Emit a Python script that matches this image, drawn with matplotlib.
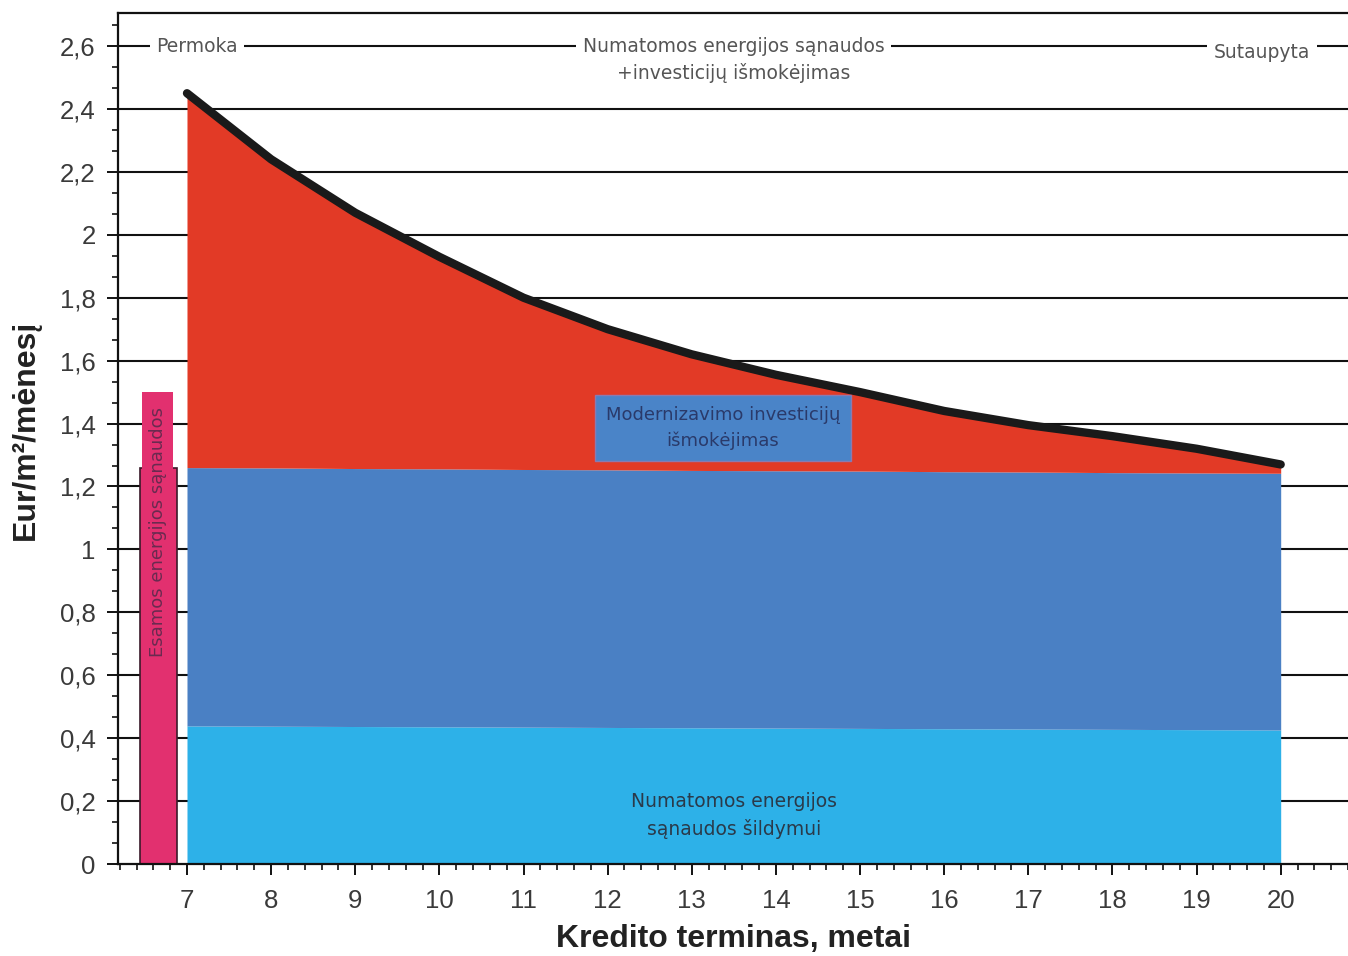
import numpy as np
import matplotlib
matplotlib.use('Agg')
import matplotlib.pyplot as plt
from matplotlib.ticker import MultipleLocator, FuncFormatter

# duomenys
metai = [7, 8, 9, 10, 11, 12, 13, 14, 15, 16, 17, 18, 19, 20]
viso = [2.45, 2.24, 2.07, 1.93, 1.80, 1.70, 1.62, 1.555, 1.50, 1.44, 1.395, 1.36, 1.32, 1.27]
investicijos_riba = [1.26, 1.259, 1.257, 1.256, 1.254, 1.253, 1.251, 1.25, 1.249, 1.247, 1.246, 1.244, 1.243, 1.242]
sildymas = [0.439, 0.438, 0.437, 0.436, 0.435, 0.434, 0.433, 0.432, 0.431, 0.43, 0.429, 0.428, 0.427, 0.426]
esamos_x = 6.66
esamos = [1.50, 1.26]
esamos_plotis = [0.36, 0.44]

RAUDONA = '#e23a26'
MELYNA = '#4a80c4'
SVIESIAI_MELYNA = '#2db1e8'
ROZINE = '#e2306f'

plt.rcParams['font.family'] = ['Liberation Sans', 'DejaVu Sans']

fig = plt.figure(figsize=(13.48, 9.56), dpi=100)
ax = fig.add_axes([118 / 1348, 92 / 956, 1 - 118 / 1348, 851 / 956])

# horizontalios linijos
for y in np.arange(0.2, 2.61, 0.2):
    ax.axhline(y, color='#111111', lw=1.5, zorder=0.5)

# esamos sanaudos (rozines kolonos)
ax.bar(esamos_x, esamos[1], width=esamos_plotis[1], color=ROZINE,
       edgecolor='#3a1a2a', linewidth=1.2, zorder=2)
ax.bar(esamos_x - 0.01, esamos[0], width=esamos_plotis[0], color=ROZINE,
       edgecolor='none', zorder=2.5)
ax.text(esamos_x - 0.01, 1.055, 'Esamos energijos sąnaudos', rotation=90,
        ha='center', va='center', fontsize=13, color='#6a2a50', zorder=3,
        family=['DejaVu Sans'])

# plotai
ax.fill_between(metai, 0, sildymas, color=SVIESIAI_MELYNA, lw=0, zorder=2)
ax.fill_between(metai, sildymas, investicijos_riba, color=MELYNA, lw=0, zorder=2)
ax.fill_between(metai, investicijos_riba, viso, color=RAUDONA, lw=0, zorder=2)
ax.plot(metai, viso, color='#1a1a1a', lw=6, solid_capstyle='round',
        solid_joinstyle='round', zorder=3)

# uzrasai
ax.text(13.37, 1.386, 'Modernizavimo investicijų\nišmokėjimas', ha='center', va='center',
        fontsize=13, color='#2a3a6a', linespacing=1.55, zorder=4,
        family=['DejaVu Sans'],
        bbox=dict(boxstyle='square,pad=0.6', fc='#4a84c8', ec='#8a7ab0', lw=1))
ax.text(13.5, 0.155, 'Numatomos energijos\nsąnaudos šildymui', ha='center', va='center',
        fontsize=13.5, color='#2a3a4a', linespacing=1.5, zorder=4, family=['DejaVu Sans'])

top_kw = dict(fontsize=13.5, color='#555555', zorder=4, family=['DejaVu Sans'],
              bbox=dict(boxstyle='square,pad=0.35', fc='white', ec='none'))
ax.text(7.12, 2.6, 'Permoka', ha='center', va='center', **top_kw)
ax.text(13.5, 2.6, 'Numatomos energijos sąnaudos', ha='center', va='center', **top_kw)
ax.text(13.5, 2.515, '+investicijų išmokėjimas', ha='center', va='center', **top_kw)
ax.text(19.78, 2.58, 'Sutaupyta', ha='center', va='center', **top_kw)

# asys
ax.set_xlim(6.18, 20.8)
ax.set_ylim(0, 2.705)
ax.spines['right'].set_visible(False)
for s in ['left', 'bottom', 'top']:
    ax.spines[s].set_linewidth(1.6)
    ax.spines[s].set_color('#111111')

ax.xaxis.set_minor_locator(MultipleLocator(0.2))
ax.yaxis.set_major_locator(MultipleLocator(0.2))
ax.yaxis.set_minor_locator(MultipleLocator(0.2 / 3))
ax.set_xticks(range(7, 21))


def kablelis(v, pos):
    if abs(v - round(v)) < 1e-6:
        return '%d' % round(v)
    return ('%.1f' % v).replace('.', ',')


ax.yaxis.set_major_formatter(FuncFormatter(kablelis))
ax.tick_params(axis='both', which='major', direction='out', length=8, width=1.4,
               labelsize=18.5, labelcolor='#3a3a3a', color='#111111')
ax.tick_params(axis='both', which='minor', direction='out', length=4, width=1.2, color='#111111')
ax.tick_params(axis='x', which='major', pad=10)
ax.tick_params(axis='y', which='major', pad=8)

ax.set_xlabel('Kredito terminas, metai', fontsize=23, fontweight='bold', color='#222222', labelpad=8)
ax.set_ylabel('Eur/m²/mėnesį', fontsize=23, fontweight='bold', color='#222222')
ax.yaxis.set_label_coords(-0.063, 0.51)
ax.set_axisbelow(True)

fig.savefig('out.png', dpi=100)
